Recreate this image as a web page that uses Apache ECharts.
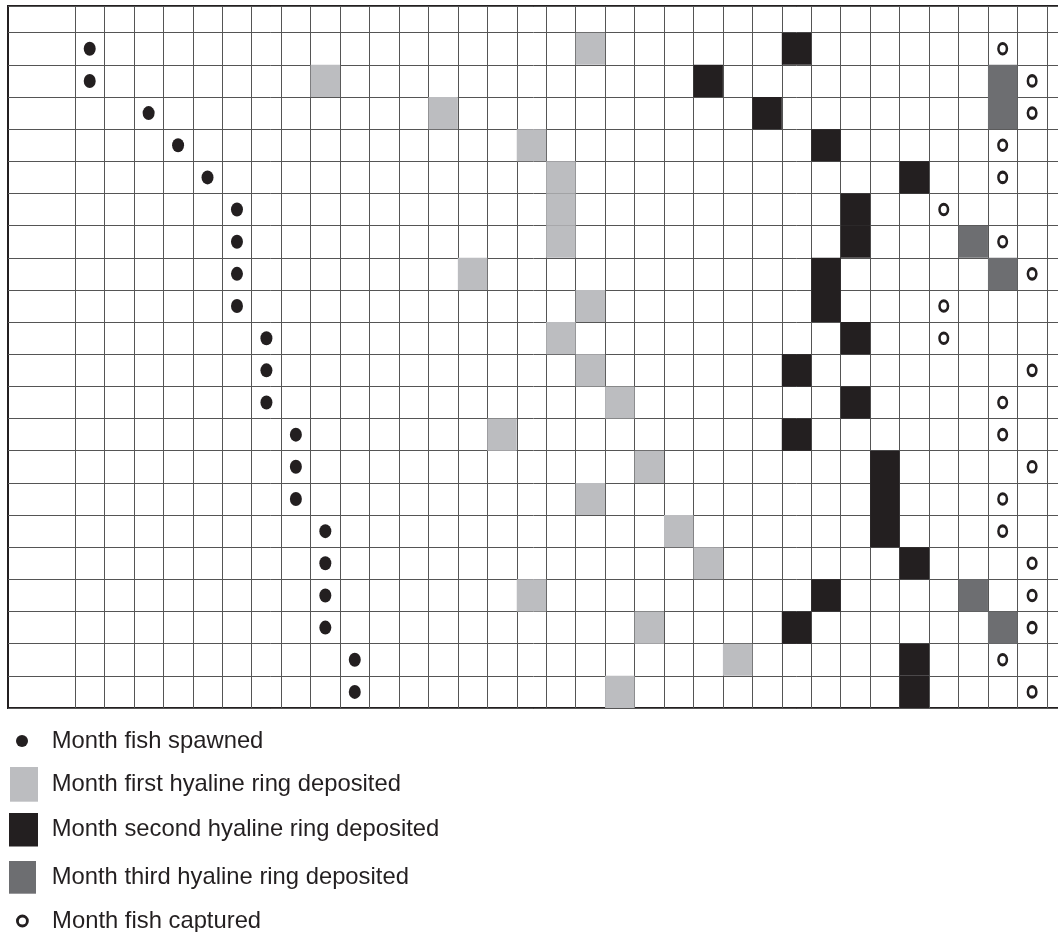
<!DOCTYPE html>
<html lang="en">
<head>
    <meta charset="UTF-8">
    <title>Otolith ring deposition by month</title>
    <script src="https://cdn.jsdelivr.net/npm/echarts@6/dist/echarts.min.js"></script>
    <style>
        body {
            margin: 0;
            background-color: #ffffff;
        }
        #chart {
            width: 1058px;
            height: 932px;
        }
    </style>
</head>
<body>
<div id="chart"></div>

<script>
    // one row per fish (top to bottom), values are month column indexes (0 = first month column)
    const spawnMonth   = [0, 0, 2, 3, 4, 5, 5, 5, 5, 6, 6, 6, 7, 7, 7, 8, 8, 8, 8, 9, 9];
    const firstRing    = [17, 8, 12, 15, 16, 16, 16, 13, 17, 16, 17, 18, 14, 19, 17, 20, 21, 15, 19, 22, 18];
    const secondRing   = [24, 21, 23, 25, 28, 26, 26, 25, 25, 26, 24, 26, 24, 27, 27, 27, 28, 25, 24, 28, 28];
    const thirdRing    = [null, 31, 31, null, null, null, 30, 31, null, null, null, null, null, null, null, null, null, 30, 31, null, null];
    const captureMonth = [31, 32, 32, 31, 31, 29, 31, 32, 29, 29, 32, 31, 31, 32, 31, 31, 32, 32, 32, 31, 32];

    const seriesNames = [
        'Month fish spawned',
        'Month first hyaline ring deposited',
        'Month second hyaline ring deposited',
        'Month third hyaline ring deposited',
        'Month fish captured'
    ];

    const rowCount = spawnMonth.length;   // 21 fish
    const monthCount = 34;                // visible month columns (last one is cut off)
    const headerRow = 0.83;               // empty header row, a bit shorter than the others

    const INK = '#231f20';
    const LIGHT = '#bcbdc0';
    const DARK = '#6d6e71';
    const FONT = "'Liberation Sans', Arial, Helvetica, sans-serif";

    // bottom edge of a fish row on the y axis (row 0 is at the top)
    function rowY(i) {
        return rowCount - 1 - i;
    }

    function pointData(arr) {
        return arr.map((m, i) => m == null ? null : [m + 0.5, rowY(i) + 0.5]).filter(d => d);
    }

    function cellData(arr) {
        return arr.map((m, i) => m == null ? null : [m, rowY(i)]).filter(d => d);
    }

    function renderCell(params, api) {
        const m = api.value(0);
        const y = api.value(1);
        const tl = api.coord([m, y + 1]);
        const br = api.coord([m + 1, y]);
        return {
            type: 'rect',
            shape: { x: tl[0], y: tl[1], width: br[0] - tl[0], height: br[1] - tl[1] },
            style: { fill: api.visual('color') }
        };
    }

    function cellSeries(name, arr, color) {
        return {
            name: name,
            type: 'custom',
            xAxisIndex: 1,
            yAxisIndex: 1,
            renderItem: renderCell,
            itemStyle: { color: color },
            data: cellData(arr),
            z: 3
        };
    }

    function legendFor(name, left, top, w, h, icon, textPad, itemStyle) {
        const lg = {
            data: [name],
            left: left,
            top: top,
            padding: 0,
            itemWidth: w,
            itemHeight: h,
            icon: icon,
            selectedMode: false,
            textStyle: {
                fontFamily: FONT,
                fontSize: 23.8,
                color: INK,
                padding: [0, 0, 0, textPad]
            }
        };
        if (itemStyle) lg.itemStyle = itemStyle;
        return lg;
    }

    const gridTop = 6;
    const gridHeight = 702;
    const colWidth = 29.45;

    const chart = echarts.init(document.getElementById('chart'));
    const option = {
        animation: false,
        backgroundColor: '#ffffff',
        grid: [
            // outer frame incl. the label column, carries the row lines
            {
                left: 8,
                top: gridTop,
                width: 75 - 8 + colWidth * monthCount,
                height: gridHeight,
                outerBoundsMode: 'none',
                show: true,
                borderColor: INK,
                borderWidth: 2,
                backgroundColor: 'transparent'
            },
            // month columns
            {
                left: 75,
                top: gridTop,
                width: colWidth * monthCount,
                height: gridHeight,
                outerBoundsMode: 'none'
            }
        ],
        xAxis: [
            {
                gridIndex: 0,
                type: 'value',
                min: 0,
                max: 1,
                show: false
            },
            {
                gridIndex: 1,
                type: 'value',
                min: 0,
                max: monthCount,
                interval: 1,
                axisLine: { show: false },
                axisTick: { show: false },
                axisLabel: { show: false },
                splitLine: { show: true, lineStyle: { color: '#555555', width: 1 } }
            }
        ],
        yAxis: [
            {
                gridIndex: 0,
                type: 'value',
                min: 0,
                max: rowCount + headerRow,
                interval: 1,
                axisLine: { show: false },
                axisTick: { show: false },
                axisLabel: { show: false },
                splitLine: { show: true, lineStyle: { color: '#555555', width: 1 } }
            },
            {
                gridIndex: 1,
                type: 'value',
                min: 0,
                max: rowCount + headerRow,
                interval: 1,
                axisLine: { show: false },
                axisTick: { show: false },
                axisLabel: { show: false },
                splitLine: { show: false }
            }
        ],
        legend: [
            legendFor(seriesNames[0], 16, 729, 28, 12, 'circle', 10.7),
            legendFor(seriesNames[1], 10, 767, 28, 34.7, 'rect', 8.7),
            legendFor(seriesNames[2], 9, 813, 29, 33.5, 'rect', 8.7),
            legendFor(seriesNames[3], 9, 861, 27, 32.7, 'rect', 10.7),
            legendFor(seriesNames[4], 16, 909, 28, 10, 'circle', 10.7,
                { color: '#ffffff', borderColor: INK, borderWidth: 2.8 })
        ],
        series: [
            cellSeries(seriesNames[1], firstRing, LIGHT),
            cellSeries(seriesNames[2], secondRing, INK),
            cellSeries(seriesNames[3], thirdRing, DARK),
            {
                name: seriesNames[0],
                type: 'scatter',
                xAxisIndex: 1,
                yAxisIndex: 1,
                symbol: 'circle',
                symbolSize: [12, 14],
                itemStyle: { color: INK, opacity: 1 },
                data: pointData(spawnMonth),
                z: 4
            },
            {
                name: seriesNames[4],
                type: 'scatter',
                xAxisIndex: 1,
                yAxisIndex: 1,
                symbol: 'circle',
                symbolSize: [8.5, 10.5],
                itemStyle: { color: '#ffffff', borderColor: INK, borderWidth: 2.8, opacity: 1 },
                data: pointData(captureMonth),
                z: 4
            }
        ]
    };
    chart.setOption(option);
</script>
</body>
</html>
